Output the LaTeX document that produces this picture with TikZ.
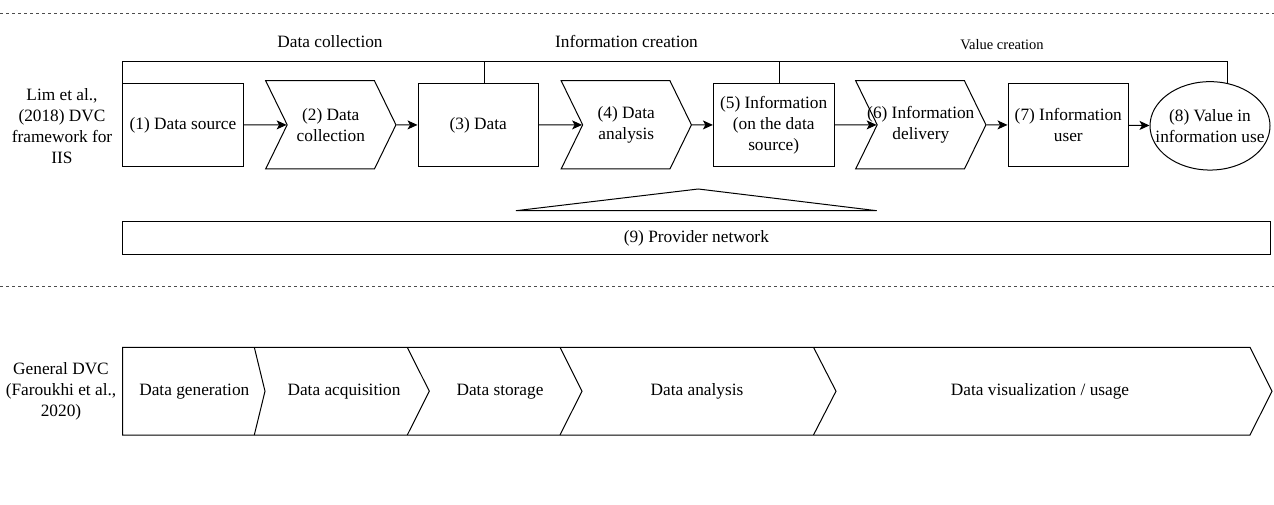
\documentclass[tikz,border=0pt]{standalone}
\usepackage{fontspec}
\setmainfont{Liberation Serif}
\usetikzlibrary{arrows.meta, shapes.geometric, shapes.symbols, calc}
\tikzset{
    my-box/.style={
        draw, rectangle, minimum width=120.6pt, minimum height=83.4pt, inner sep=1pt, align=center
    },
    my-chevron/.style={
        draw, signal, signal from=west, signal to=east, signal pointer angle=128,
        minimum width=130.3pt, minimum height=88.3pt, inner sep=0pt
    },
    my-value/.style={
        draw, ellipse, minimum width=120pt, minimum height=88.4pt, inner sep=0pt
    },
    my-text/.style={
        align=center, inner sep=0pt
    },
    my-stage/.style={
        inner sep=0pt, text height=12pt, text depth=4pt
    },
    my-arrow/.style={
        -{Stealth[length=10pt, width=9pt, inset=2.5pt]}
    },
    my-separator/.style={
        dash pattern=on 3pt off 3pt, black!70
    },
}

\begin{document}
\begin{tikzpicture}[x=1pt, y=-1pt, line width=1pt, font=\fontsize{17.3}{21}\selectfont]

        \useasboundingbox (0,0) rectangle (1274,505);

        % SEPARATORS
        \draw[my-separator] (0,14)    -- (1274,14);
        \draw[my-separator] (0,286.7) -- (1274,286.7);

        % LIM ET AL. CHAIN
        \node[my-text]  (LIM)      at (62,126.5)       {Lim et al.,\\(2018) DVC\\framework for\\IIS};
        \node[my-box]   (SOURCE)   at (183,125)        {(1) Data source};
        \node[my-chevron, label={[my-text]center:{(2) Data\\collection}}]   (COLLECT)  at (330.8,124.85) {};
        \node[my-box]   (DATA)     at (478.3,125)      {(3) Data};
        \node[my-chevron, label={[my-text]center:{(4) Data\\analysis}}]     (ANALYSIS) at (626.3,124.85) {};
        \node[my-box]   (INFO)     at (773.7,125)      {(5) Information\\(on the data\\source)};
        \node[my-chevron, label={[my-text]center:{(6) Information\\delivery}}] (DELIVERY) at (920.8,124.85) {};
        \node[my-box]   (USER)     at (1068.3,125)     {(7) Information\\user};
        \node[my-value, label={[my-text]center:{(8) Value in\\information use}}] (VALUE) at (1210,125.85) {};

        % CHAIN ARROWS
        \draw[my-arrow] (SOURCE)   -- (COLLECT);
        \draw[my-arrow] (COLLECT)  -- (DATA);
        \draw[my-arrow] (DATA)     -- (ANALYSIS);
        \draw[my-arrow] (ANALYSIS) -- (INFO);
        \draw[my-arrow] (INFO)     -- (DELIVERY);
        \draw[my-arrow] (DELIVERY) -- (USER);
        \draw[my-arrow] (USER)     -- (VALUE);

        % PHASE BRACKET AND LABELS
        \coordinate (TOPL)  at ($(SOURCE.north west) + (0,-21.6)$);
        \coordinate (TOPR)  at (VALUE.68 |- TOPL);
        \coordinate (TICK3) at ($(DATA.north) + (5.7,0)$);
        \coordinate (TICK5) at ($(INFO.north) + (5.3,0)$);
        \draw (SOURCE.north west) -- (TOPL) -- (TOPR) -- (VALUE.68);
        \draw (TICK3) -- (TICK3 |- TOPL);
        \draw (TICK5) -- (TICK5 |- TOPL);
        \node[my-stage] (PHCOLLECT) at (330,43.5)   {Data collection};
        \node[my-stage] (PHINFO)    at (626.5,43.5) {Information creation};
        \node[my-text, font=\fontsize{14.5}{17}\selectfont] (PHVALUE) at (1002,45) {Value creation};

        % PROVIDER NETWORK
        \draw (516,210.7) -- (698.3,189) -- (876.7,210.7) -- cycle;
        \node[draw, minimum width=1147.3pt, minimum height=32.3pt, inner sep=0pt] (PROVIDER) at (696.35,237.85) {(9) Provider network};

        % GENERAL DVC STRIP
        \node[my-text]  (GENERAL) at (61,391.2)    {General DVC\\(Faroukhi et al.,\\2020)};
        \node[my-stage] (GEN)     at (194.3,391.2) {Data generation};
        \node[my-stage] (ACQ)     at (344,391.2)   {Data acquisition};
        \node[my-stage] (STOR)    at (500,391.2)   {Data storage};
        \node[my-stage] (ANAL)    at (697,391.2)   {Data analysis};
        \node[my-stage] (VIS)     at (1040,391.2)  {Data visualization / usage};
        \draw (122.7,347.3) -- (1250,347.3) -- (1272,391.2) -- (1250,435) -- (122.7,435) -- cycle;
        \draw (254.3,347.3) -- (265,391.2)   -- (254.3,435);
        \draw (407.3,347.3) -- (429.3,391.2) -- (407.3,435);
        \draw (560,347.3)   -- (582,391.2)   -- (560,435);
        \draw (813.5,347.3) -- (836,391.2)   -- (813.5,435);

    \end{tikzpicture}
\end{document}
